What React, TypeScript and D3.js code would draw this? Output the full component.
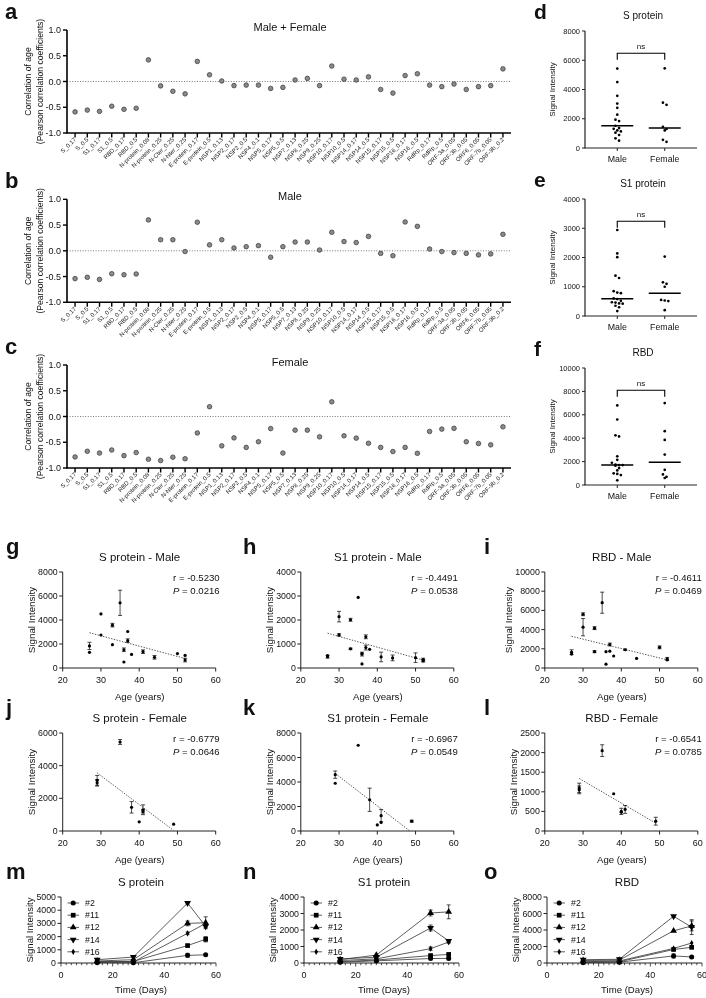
import React from 'react';
import * as d3 from 'd3';

const FONT = '"Liberation Sans", Arial, Helvetica, sans-serif';

// ---------- a, b, c : correlation with age ----------
const categories = ['S_0.17','S_0.5','S1_0.17','S1_0.5','RBD_0.17','RBD_0.5','N-protein_0.08','N-protein_0.25','N-Cter_0.25','N-Nter_0.25','E-protein_0.17','E-protein_0.5','NSP1_0.13','NSP2_0.17','NSP2_0.5','NSP4_0.1','NSP5_0.17','NSP5_0.5','NSP7_0.13','NSP8_0.25','NSP9_0.25','NSP10_0.17','NSP10_0.5','NSP14_0.17','NSP14_0.5','NSP15_0.17','NSP15_0.5','NSP16_0.17','NSP16_0.5','RdRp_0.17','RdRp_0.5','ORF-3a_0.05','ORF-3b_0.05','ORF6_0.05','ORF-7b_0.05','ORF-9b_0.2'];
const corrAll = [-0.59,-0.555,-0.58,-0.48,-0.54,-0.52,0.42,-0.085,-0.19,-0.24,0.39,0.13,0.01,-0.08,-0.07,-0.07,-0.135,-0.115,0.03,0.06,-0.08,0.30,0.045,0.03,0.09,-0.155,-0.225,0.115,0.15,-0.07,-0.10,-0.05,-0.155,-0.10,-0.08,0.245];
const corrMale = [-0.54,-0.515,-0.555,-0.445,-0.465,-0.45,0.6,0.215,0.215,-0.015,0.555,0.115,0.215,0.055,0.08,0.10,-0.125,0.08,0.17,0.17,0.015,0.36,0.18,0.16,0.28,-0.05,-0.095,0.56,0.475,0.035,-0.015,-0.035,-0.05,-0.08,-0.06,0.32];
const corrFemale = [-0.785,-0.675,-0.71,-0.65,-0.76,-0.70,-0.83,-0.855,-0.79,-0.82,-0.32,0.19,-0.57,-0.415,-0.60,-0.49,-0.235,-0.71,-0.265,-0.265,-0.395,0.285,-0.375,-0.42,-0.52,-0.60,-0.68,-0.60,-0.715,-0.29,-0.245,-0.23,-0.49,-0.525,-0.55,-0.2];
const corrTicks = [-1, -0.5, 0, 0.5, 1];

// ---------- g-l : signal vs age ----------
const gAge = [27,27,30,30,33,33,35,36,36,37,37,38,41,44,50,52,52];
const gVal = [1840,1310,4510,2750,3570,1940,5430,1520,500,3040,2280,1130,1360,890,1200,1050,660];
const gErr = [300,0,0,0,150,0,1050,150,0,0,150,0,150,150,0,0,150];
const gFitAge = [27, 52];
const gFitVal = [2940, 790];

const hAge = [27,27,30,30,33,33,35,36,36,37,37,38,41,44,50,52,52,36];
const hVal = [470,520,2140,1380,2010,800,2940,580,170,1300,850,780,460,420,430,350,300,600];
const hErr = [60,0,220,50,60,30,0,80,0,80,100,0,200,120,200,60,50,0];
const hFitAge = [27, 52];
const hFitVal = [1450, 330];

const iAge = [27,27,30,30,33,33,35,36,36,37,37,38,41,44,50,52,52];
const iVal = [1650,1450,5600,4250,4150,1700,6800,1700,400,2450,1750,1250,1900,1000,2150,950,850];
const iErr = [250,0,150,900,150,100,1100,0,0,150,0,0,80,0,150,150,0];
const iFitAge = [27, 52];
const iFitVal = [3300, 850];

const jAge = [29,29,35,38,40,41,41,49];
const jVal = [3100,2950,5450,1450,560,1300,1200,420];
const jErr = [300,200,150,350,0,300,100,0];
const jFitAge = [29, 49];
const jFitVal = [3560, 30];

const kAge = [29,29,35,38,40,41,41,49];
const kVal = [4600,3900,7000,2550,500,1250,700,800];
const kErr = [300,0,0,950,0,500,0,80];
const kFitAge = [29, 48.5];
const kFitVal = [4700, 0];

const lAge = [29,29,35,38,40,41,40,49];
const lVal = [1100,1050,2050,950,500,550,480,250];
const lErr = [120,100,150,0,80,100,0,100];
const lFitAge = [29, 49];
const lFitVal = [1340, 200];

// ---------- d-f : male vs female ----------
const sMale = gVal;
const sFemale = jVal;
const s1Male = hVal;
const s1Female = [2030,1150,1100,1000,550,530,510,200];
const rbdMale = iVal;
const rbdFemale = [7000,4600,3850,2600,1300,900,700,600];
const groups = ['Male', 'Female'];

// ---------- m-o : time course ----------
const days = [14, 28, 49, 56];
const seriesNames = ['#2', '#11', '#12', '#14', '#16'];
const mVals = [[30,20,580,620],[80,120,1320,1800],[150,250,3000,3050],[250,450,4540,2780],[120,80,2250,3000]];
const mErrs = [[0,0,150,0],[0,0,60,200],[60,0,180,450],[0,0,60,100],[0,0,100,0]];
const nVals = [[50,130,270,280],[80,180,450,520],[200,480,3030,3100],[250,350,2120,1340],[150,250,870,1270]];
const nErrs = [[0,0,0,0],[0,0,60,0],[0,0,180,420],[60,0,180,80],[0,0,100,60]];
const oVals = [[50,100,860,730],[100,150,1640,1900],[300,350,3900,4500],[400,450,5660,4350],[150,250,1770,2420]];
const oErrs = [[0,0,250,0],[0,0,100,0],[0,0,0,600],[0,0,100,900],[0,0,0,0]];

const INK = '#111';
const AX = '#222';

function Letter({ x, y, c, size = 22 }: any) {
  return <text x={x} y={y} fontSize={size} fontWeight="bold" fill={INK}>{c}</text>;
}

function CorrPanel({ letter, title, values, top }: any) {
  const h = 103;
  const x = d3.scalePoint<string>().domain(categories).range([67, 511]).padding(0.66);
  const y = d3.scaleLinear().domain([-1, 1]).range([top + h, top]);
  const yb = y(-1);
  return (
    <g>
      <Letter x={5} y={top - 11} c={letter} />
      <text x={290} y={top + 1} fontSize={11} textAnchor="middle" fill={INK}>{title}</text>
      <line x1={67} x2={511} y1={y(0)} y2={y(0)} stroke="#555" strokeWidth={0.8} strokeDasharray="1,1.6" />
      <line x1={67} x2={67} y1={y(1)} y2={yb} stroke="#000" strokeWidth={1.6} />
      <line x1={66.2} x2={511} y1={yb} y2={yb} stroke="#000" strokeWidth={1.6} />
      {corrTicks.map(t => (
        <g key={t}>
          <line x1={63} x2={67} y1={y(t)} y2={y(t)} stroke="#000" strokeWidth={1.4} />
          <text x={61} y={y(t)} dy="0.35em" fontSize={9} textAnchor="end" fill={INK}>{t.toFixed(1)}</text>
        </g>
      ))}
      {categories.map(c => (
        <line key={c} x1={x(c)} x2={x(c)} y1={yb} y2={yb + 4.5} stroke="#000" strokeWidth={1.4} />
      ))}
      <g>
        {categories.map(c => (
          <text key={c} transform={`translate(${x(c)! + 1.5},${yb + 7}) rotate(-45)`} fontSize={6} textAnchor="end" fill="#222">{c}</text>
        ))}
      </g>
      {values.map((v: number, i: number) => (
        <circle key={i} cx={x(categories[i])} cy={y(v)} r={2.3} fill="#8a8a8a" stroke="#333" strokeWidth={0.7} />
      ))}
      <text transform={`translate(28,${top + h / 2}) rotate(-90)`} dy="0.35em" fontSize={8.6} textAnchor="middle" fill={INK}>Correlation of age</text>
      <text transform={`translate(39.5,${top + h / 2}) rotate(-90)`} dy="0.35em" fontSize={8.6} textAnchor="middle" fill={INK}>(Pearson correlation coefficients)</text>
    </g>
  );
}

function swarm(vals: number[], y: (v: number) => number, cx: number) {
  const pts = vals.map(v => ({ v, py: y(v) })).sort((a, b) => a.py - b.py);
  const out: { x: number; y: number }[] = [];
  let group: { v: number; py: number }[] = [];
  const flush = () => {
    group.forEach((p, i) => out.push({ x: cx + (i - (group.length - 1) / 2) * 3.6, y: p.py }));
    group = [];
  };
  for (const p of pts) {
    if (group.length && p.py - group[0].py > 2.8) flush();
    group.push(p);
  }
  flush();
  return out;
}

function DotPanel({ letter, title, male, female, yMax, yStep, top }: any) {
  const h = 117;
  const x = d3.scalePoint<string>().domain(groups).range([585, 697]).padding(0.68);
  const y = d3.scaleLinear().domain([0, yMax]).range([top + h, top]);
  const yb = top + h;
  const ticks = d3.range(0, yMax + 1, yStep);
  const sets = [male, female];
  const by = y(yMax * 0.81);
  return (
    <g>
      <Letter x={534} y={top - 12} c={letter} size={21} />
      <text x={643} y={top - 12} fontSize={10} textAnchor="middle" fill={INK}>{title}</text>
      <line x1={585} x2={585} y1={top} y2={yb} stroke={AX} strokeWidth={1.2} />
      <line x1={584.4} x2={697} y1={yb} y2={yb} stroke={AX} strokeWidth={1.2} />
      {ticks.map(t => (
        <g key={t}>
          <line x1={582} x2={585} y1={y(t)} y2={y(t)} stroke={AX} strokeWidth={1} />
          <text x={580} y={y(t)} dy="0.35em" fontSize={7.5} textAnchor="end" fill={INK}>{t}</text>
        </g>
      ))}
      {groups.map((g, gi) => {
        const cx = x(g)!;
        const med = d3.median(sets[gi] as number[])!;
        return (
          <g key={g}>
            <line x1={cx} x2={cx} y1={yb} y2={yb + 3} stroke={AX} strokeWidth={1} />
            <text x={cx} y={yb + 14} fontSize={8.8} textAnchor="middle" fill={INK}>{g}</text>
            {swarm(sets[gi], y, cx).map((p, i) => (
              <circle key={i} cx={p.x} cy={p.y} r={1.35} fill="#000" />
            ))}
            <line x1={cx - 16} x2={cx + 16} y1={y(med)} y2={y(med)} stroke="#000" strokeWidth={1.5} />
          </g>
        );
      })}
      <path d={`M${x('Male')},${by + 6.5}V${by}H${x('Female')}V${by + 6.5}`} fill="none" stroke="#000" strokeWidth={1.1} />
      <text x={(x('Male')! + x('Female')!) / 2} y={by - 4} fontSize={8} textAnchor="middle" fill={INK}>ns</text>
      <text transform={`translate(552,${top + h / 2}) rotate(-90)`} dy="0.35em" fontSize={8} textAnchor="middle" fill={INK}>Signal Intensity</text>
    </g>
  );
}

function ErrBar({ x, y1, y2 }: any) {
  return (
    <g stroke="#000" strokeWidth={0.7}>
      <line x1={x} x2={x} y1={y1} y2={y2} />
      <line x1={x - 2} x2={x + 2} y1={y1} y2={y1} />
      <line x1={x - 2} x2={x + 2} y1={y2} y2={y2} />
    </g>
  );
}

function ScatterPanel({ letter, letterX, title, ages, vals, errs, fitAges, fitVals, yMax, yStep, r, p, left, top, h, ylabOff }: any) {
  const w = 153;
  const x = d3.scaleLinear().domain([20, 60]).range([left, left + w]);
  const y = d3.scaleLinear().domain([0, yMax]).range([top + h, top]);
  const yb = top + h;
  const yt = d3.range(0, yMax + 1, yStep);
  const xt = [20, 30, 40, 50, 60];
  const fit = d3.line<number>().x(a => x(a)).y((a, i) => y(fitVals[i]));
  return (
    <g>
      <Letter x={letterX} y={top - 18} c={letter} />
      <text x={left + 77} y={top - 11} fontSize={11.5} textAnchor="middle" fill={INK}>{title}</text>
      <line x1={left} x2={left} y1={top} y2={yb} stroke={AX} strokeWidth={1} />
      <line x1={left - 0.5} x2={left + w} y1={yb} y2={yb} stroke={AX} strokeWidth={1} />
      {yt.map(t => (
        <g key={t}>
          <line x1={left - 3.5} x2={left} y1={y(t)} y2={y(t)} stroke={AX} strokeWidth={1} />
          <text x={left - 5} y={y(t)} dy="0.35em" fontSize={8.8} textAnchor="end" fill={INK}>{t}</text>
        </g>
      ))}
      {xt.map(t => (
        <g key={t}>
          <line x1={x(t)} x2={x(t)} y1={yb} y2={yb + 3.5} stroke={AX} strokeWidth={1} />
          <text x={x(t)} y={yb + 15} fontSize={9} textAnchor="middle" fill={INK}>{t}</text>
        </g>
      ))}
      <text x={left + 77} y={yb + 32} fontSize={9.6} textAnchor="middle" fill={INK}>Age (years)</text>
      <text transform={`translate(${left - ylabOff},${top + h / 2}) rotate(-90)`} dy="0.35em" fontSize={9.8} textAnchor="middle" fill={INK}>Signal Intensity</text>
      <path d={fit(fitAges) || ''} fill="none" stroke="#444" strokeWidth={0.9} strokeDasharray="1.4,1.4" />
      {ages.map((a: number, i: number) => (
        <g key={i}>
          {errs[i] > 0 && <ErrBar x={x(a)} y1={y(vals[i] + errs[i])} y2={y(Math.max(0, vals[i] - errs[i]))} />}
          <circle cx={x(a)} cy={y(vals[i])} r={1.6} fill="#000" />
        </g>
      ))}
      <text x={left + 157} y={top + 9} fontSize={9.6} textAnchor="end" fill={INK}>{`r = ${r}`}</text>
      <text x={left + 157} y={top + 22} fontSize={9.6} textAnchor="end" fill={INK}><tspan fontStyle="italic">P</tspan>{` = ${p}`}</text>
    </g>
  );
}

const symbolTypes = [d3.symbolCircle, d3.symbolSquare, d3.symbolTriangle, d3.symbolTriangle, d3.symbolDiamond];
const symbolSizes = [20, 22, 20, 20, 11];
const symbolRot = [0, 0, 0, 180, 0];

function Sym({ i, x, y }: any) {
  const d = d3.symbol().type(symbolTypes[i]).size(symbolSizes[i])() || '';
  return <path d={d} transform={`translate(${x},${y}) rotate(${symbolRot[i]})`} fill="#000" />;
}

function TimePanel({ letter, letterX, title, vals, errs, yMax, yStep, left, top, h, ylabOff }: any) {
  const w = 155;
  const x = d3.scaleLinear().domain([0, 60]).range([left, left + w]);
  const y = d3.scaleLinear().domain([0, yMax]).range([top + h, top]);
  const yb = top + h;
  const yt = d3.range(0, yMax + 1, yStep);
  const xMinor = d3.range(0, 61, 2);
  const line = d3.line<number>().x((d, i) => x(days[i])).y(d => y(d));
  return (
    <g>
      <Letter x={letterX} y={top - 18} c={letter} />
      <text x={left + 80} y={top - 11} fontSize={11.5} textAnchor="middle" fill={INK}>{title}</text>
      <line x1={left} x2={left} y1={top} y2={yb} stroke={AX} strokeWidth={1} />
      <line x1={left - 0.5} x2={left + w} y1={yb} y2={yb} stroke={AX} strokeWidth={1} />
      {yt.map(t => (
        <g key={t}>
          <line x1={left - 3.5} x2={left} y1={y(t)} y2={y(t)} stroke={AX} strokeWidth={1} />
          <text x={left - 5} y={y(t)} dy="0.35em" fontSize={8.8} textAnchor="end" fill={INK}>{t}</text>
        </g>
      ))}
      {xMinor.map(t => (
        <line key={t} x1={x(t)} x2={x(t)} y1={yb} y2={yb + (t % 20 === 0 ? 3.5 : 2.2)} stroke={AX} strokeWidth={0.8} />
      ))}
      {[0, 20, 40, 60].map(t => (
        <text key={t} x={x(t)} y={yb + 15} fontSize={9} textAnchor="middle" fill={INK}>{t}</text>
      ))}
      <text x={left + 80} y={yb + 30} fontSize={9.6} textAnchor="middle" fill={INK}>Time (Days)</text>
      <text transform={`translate(${left - ylabOff},${top + h / 2}) rotate(-90)`} dy="0.35em" fontSize={9.6} textAnchor="middle" fill={INK}>Signal Intensity</text>
      {vals.map((s: number[], si: number) => (
        <g key={si}>
          <path d={line(s) || ''} fill="none" stroke="#333" strokeWidth={0.8} />
          {s.map((v, di) => (
            <g key={di}>
              {errs[si][di] > 0 && <ErrBar x={x(days[di])} y1={y(v + errs[si][di])} y2={y(Math.max(0, v - errs[si][di]))} />}
              <Sym i={si} x={x(days[di])} y={y(v)} />
            </g>
          ))}
        </g>
      ))}
      {seriesNames.map((n, si) => {
        const ly = top + 6 + si * 12.2;
        return (
          <g key={n}>
            <line x1={left + 6.5} x2={left + 18} y1={ly} y2={ly} stroke="#333" strokeWidth={0.8} />
            <Sym i={si} x={left + 12.2} y={ly} />
            <text x={left + 24} y={ly} dy="0.35em" fontSize={8.8} fill={INK}>{n}</text>
          </g>
        );
      })}
    </g>
  );
}

export default function App() {
  return (
    <svg width={706} height={998} viewBox="0 0 706 998"
      style={{ position: 'absolute', left: 0, top: 0, background: '#fff', fontFamily: FONT, filter: 'grayscale(100%)' }}>
      <rect x={0} y={0} width={706} height={998} fill="#fff" />
      <CorrPanel letter="a" title="Male + Female" values={corrAll} top={30} />
      <CorrPanel letter="b" title="Male" values={corrMale} top={199.3} />
      <CorrPanel letter="c" title="Female" values={corrFemale} top={365} />

      <DotPanel letter="d" title="S protein" male={sMale} female={sFemale} yMax={8000} yStep={2000} top={31} />
      <DotPanel letter="e" title="S1 protein" male={s1Male} female={s1Female} yMax={4000} yStep={1000} top={199} />
      <DotPanel letter="f" title="RBD" male={rbdMale} female={rbdFemale} yMax={10000} yStep={2000} top={368} />

      <ScatterPanel letter="g" letterX={6} title="S protein - Male" ages={gAge} vals={gVal} errs={gErr} fitAges={gFitAge} fitVals={gFitVal} yMax={8000} yStep={2000} r="-0.5230" p="0.0216" left={62.7} top={572} h={96} ylabOff={31} />
      <ScatterPanel letter="h" letterX={243} title="S1 protein - Male" ages={hAge} vals={hVal} errs={hErr} fitAges={hFitAge} fitVals={hFitVal} yMax={4000} yStep={1000} r="-0.4491" p="0.0538" left={300.8} top={572} h={96} ylabOff={31} />
      <ScatterPanel letter="i" letterX={484} title="RBD - Male" ages={iAge} vals={iVal} errs={iErr} fitAges={iFitAge} fitVals={iFitVal} yMax={10000} yStep={2000} r="-0.4611" p="0.0469" left={544.8} top={572} h={96} ylabOff={36} />

      <ScatterPanel letter="j" letterX={6} title="S protein - Female" ages={jAge} vals={jVal} errs={jErr} fitAges={jFitAge} fitVals={jFitVal} yMax={6000} yStep={2000} r="-0.6779" p="0.0646" left={62.7} top={733} h={98} ylabOff={31} />
      <ScatterPanel letter="k" letterX={243} title="S1 protein - Female" ages={kAge} vals={kVal} errs={kErr} fitAges={kFitAge} fitVals={kFitVal} yMax={8000} yStep={2000} r="-0.6967" p="0.0549" left={300.8} top={733} h={98} ylabOff={31} />
      <ScatterPanel letter="l" letterX={484} title="RBD - Female" ages={lAge} vals={lVal} errs={lErr} fitAges={lFitAge} fitVals={lFitVal} yMax={2500} yStep={500} r="-0.6541" p="0.0785" left={544.8} top={733} h={98} ylabOff={31} />

      <TimePanel letter="m" letterX={6} title="S protein" vals={mVals} errs={mErrs} yMax={5000} yStep={1000} left={61} top={897} h={66} ylabOff={31} />
      <TimePanel letter="n" letterX={243} title="S1 protein" vals={nVals} errs={nErrs} yMax={4000} yStep={1000} left={304} top={897} h={66} ylabOff={31} />
      <TimePanel letter="o" letterX={484} title="RBD" vals={oVals} errs={oErrs} yMax={8000} yStep={2000} left={547} top={897} h={66} ylabOff={31} />
    </svg>
  );
}
